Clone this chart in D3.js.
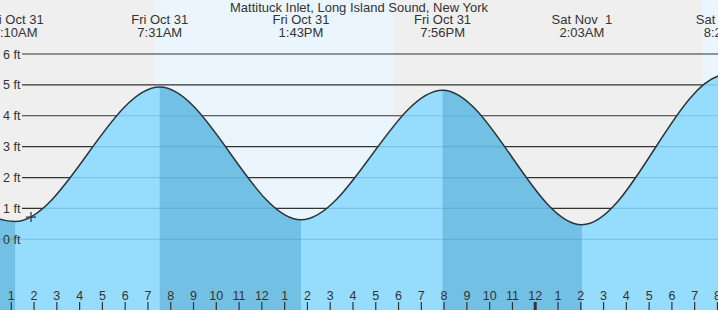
<!DOCTYPE html>
<html>
<head>
<meta charset="utf-8">
<script src="https://cdn.jsdelivr.net/npm/d3@7"></script>
<style>
  body { margin: 0; background: #efefef; }
  svg { display: block; }
  text { font-family: "Liberation Sans", Arial, sans-serif; fill: #333; }
</style>
</head>
<body>
<div id="chart"></div>
<script>
// chart size
var svgWidth = 718;
var svgHeight = 310;

var title = 'Mattituck Inlet, Long Island Sound, New York';

// tide extremes, hours counted from midnight Fri Oct 31 (first and last are off screen)
var tideHours  = [-5.2, 1.167, 7.517, 13.717, 19.933, 26.05, 32.38, 38.6];
var tideLevels = [4.95, 0.58, 4.93, 0.63, 4.83, 0.47, 5.33, 0.6];
var tideKinds  = ['H', 'L', 'H', 'L', 'H', 'L', 'H', 'L'];
var tideDays   = ['Thu Oct 30', 'Fri Oct 31', 'Fri Oct 31', 'Fri Oct 31', 'Fri Oct 31', 'Sat Nov  1', 'Sat Nov  1', 'Sat Nov  1'];
var tideTimes  = ['7:12PM', '1:10AM', '7:31AM', '1:43PM', '7:56PM', '2:03AM', '8:23AM', '2:36PM'];

// daylight: sunrise / sunset pairs (hours from midnight Oct 31)
var sunrise = [7.31, 31.32];
var sunset  = [17.77, 41.8];

// current time marker
var nowHour = 1.866;
var nowLevel = 0.72;

var ftTicks = [0, 1, 2, 3, 4, 5, 6];

var t0 = Date.UTC(2025, 9, 31, 0, 0);
function toDate(h) { return new Date(t0 + h * 3600000); }

var xScale = d3.scaleUtc()
  .domain([toDate(0.505), toDate(0.505 + svgWidth / 22.78)])
  .range([0, svgWidth]);

var yScale = d3.scaleLinear()
  .domain([0, 6])
  .range([239.3, 54]);

var tides = tideHours.map(function(h, i) {
  return { date: toDate(h), level: tideLevels[i], kind: tideKinds[i], day: tideDays[i], time: tideTimes[i] };
});

var svg = d3.select('#chart')
  .append('svg')
  .attr('width', svgWidth)
  .attr('height', svgHeight);

// day / night background
svg.append('rect')
  .attr('width', svgWidth)
  .attr('height', svgHeight)
  .attr('fill', '#efefef');

svg.selectAll('.day')
  .data(sunrise)
  .enter()
  .append('rect')
  .attr('class', 'day')
  .attr('x', d => xScale(toDate(d)))
  .attr('y', 0)
  .attr('width', (d, i) => xScale(toDate(sunset[i])) - xScale(toDate(d)))
  .attr('height', svgHeight)
  .attr('fill', '#ebf5fe');

// grid lines behind the water
svg.selectAll('.grid')
  .data(ftTicks)
  .enter()
  .append('line')
  .attr('class', 'grid')
  .attr('x1', 22)
  .attr('x2', svgWidth)
  .attr('y1', d => yScale(d))
  .attr('y2', d => yScale(d))
  .attr('stroke', '#333')
  .attr('stroke-width', 1.2);

// water area
var area = d3.area()
  .x(d => xScale(d.date))
  .y0(svgHeight)
  .y1(d => yScale(d.level))
  .curve(d3.curveMonotoneX);

var line = d3.line()
  .x(d => xScale(d.date))
  .y(d => yScale(d.level))
  .curve(d3.curveMonotoneX);

svg.append('clipPath')
  .attr('id', 'water')
  .append('path')
  .attr('d', area(tides));

var water = svg.append('g').attr('clip-path', 'url(#water)');

water.append('rect')
  .attr('width', svgWidth)
  .attr('height', svgHeight)
  .attr('fill', '#96dcfc');

// falling tide (high -> next low) in darker blue
var ebbs = tides.filter((d, i) => d.kind === 'H' && i < tides.length - 1);
water.selectAll('.ebb')
  .data(ebbs)
  .enter()
  .append('rect')
  .attr('class', 'ebb')
  .attr('x', d => xScale(d.date))
  .attr('y', 0)
  .attr('width', d => xScale(tides[tides.indexOf(d) + 1].date) - xScale(d.date))
  .attr('height', svgHeight)
  .attr('fill', '#72c0e4');

water.selectAll('.wgrid')
  .data(ftTicks)
  .enter()
  .append('line')
  .attr('x1', 0)
  .attr('x2', svgWidth)
  .attr('y1', d => yScale(d))
  .attr('y2', d => yScale(d))
  .attr('stroke', 'rgb(60,140,195)')
  .attr('stroke-opacity', 0.3)
  .attr('stroke-width', 1.2);

svg.append('path')
  .attr('d', line(tides))
  .attr('fill', 'none')
  .attr('stroke', '#333')
  .attr('stroke-width', 1.5);

// current time marker
var nx = xScale(toDate(nowHour));
var ny = yScale(nowLevel);
svg.append('path')
  .attr('d', `M${nx - 5},${ny}H${nx + 5}M${nx},${ny - 5}V${ny + 5}`)
  .attr('stroke', '#333')
  .attr('stroke-width', 1.2);

// ft labels
svg.selectAll('.ft')
  .data(ftTicks)
  .enter()
  .append('text')
  .attr('x', 3)
  .attr('y', d => yScale(d) + 4.5)
  .style('font-size', '12.5px')
  .text(d => d + ' ft');

// title
svg.append('text')
  .attr('x', svgWidth / 2)
  .attr('y', 12)
  .attr('text-anchor', 'middle')
  .style('font-size', '13px')
  .text(title);

// tide time headers
var heads = svg.selectAll('.head')
  .data(tides)
  .enter()
  .append('g')
  .attr('transform', d => `translate(${xScale(d.date)},0)`);

heads.append('text')
  .attr('y', 24)
  .attr('text-anchor', 'middle')
  .style('font-size', '13px')
  .style('white-space', 'pre')
  .text(d => d.day);

heads.append('text')
  .attr('y', 37)
  .attr('text-anchor', 'middle')
  .style('font-size', '13px')
  .text(d => d.time);

// hour ticks along the bottom
var hours = xScale.ticks(d3.utcHour.every(1));
var hourFmt = d3.utcFormat('%-I');

svg.selectAll('.htick')
  .data(hours)
  .enter()
  .append('line')
  .attr('x1', d => xScale(d))
  .attr('x2', d => xScale(d))
  .attr('y1', 302)
  .attr('y2', svgHeight)
  .attr('stroke', '#333')
  .attr('stroke-width', d => d.getUTCHours() === 0 ? 3 : 1.2);

svg.selectAll('.hlabel')
  .data(hours)
  .enter()
  .append('text')
  .attr('x', d => xScale(d))
  .attr('y', 300)
  .attr('text-anchor', 'middle')
  .style('font-size', '12.5px')
  .text(d => hourFmt(d));
</script>
</body>
</html>
